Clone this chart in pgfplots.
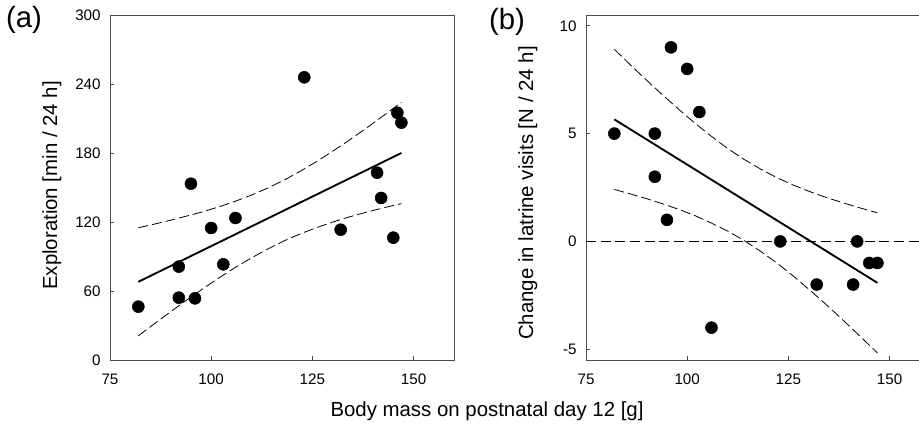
\documentclass[border=0pt]{standalone}
\usepackage{fontspec}
\setmainfont{Liberation Sans}
\usepackage{pgfplots}
\pgfplotsset{compat=1.18}
\begin{document}
\begin{tikzpicture}
\useasboundingbox (0,0) rectangle (689.25pt,322.5pt);
\clip (0,0) rectangle (689.25pt,322.5pt);
\pgfplotsset{
  panel/.style={
    width=258pt, height=258.75pt, scale only axis,
    anchor=south west,
    xmin=75, xmax=160, xtick={75,100,125,150},
    tick align=inside, tick pos=left, major tick length=3pt,
    axis line style={black!70, line width=0.75pt},
    tick style={black!70, line width=0.6pt},
    ticklabel style={font=\fontsize{11.4}{13}\selectfont},
    /pgf/number format/assume math mode=true,
    xticklabel style={yshift=-7pt},
    yticklabel style={xshift=-3.5pt},
    label style={font=\fontsize{15.3}{18}\selectfont},
  },
  pts/.style={only marks, mark=*, mark size=4.5pt, black},
  fit/.style={black, line width=1.4pt, no marks},
  ci/.style={black, line width=0.6pt, no marks, dash pattern=on 7.5pt off 3pt},
}
% (a)
\begin{axis}[panel, at={(82.5pt,52.5pt)},
  ymin=0, ymax=300, ytick={0,60,120,180,240,300},
  ylabel={Exploration [min / 24 h]},
  ylabel style={at={(axis description cs:-0.169,0.506)}, anchor=center}]
\addplot[ci] coordinates {(82,115.0) (86,118.2) (90,121.6) (94,125.2) (98,129.0) (102,133.3) (106,138.1) (110,143.5) (114,149.6) (118,156.4) (122,164.1) (126,172.5) (130,181.5) (134,190.9) (138,200.8) (142,211.0) (146,221.4) (147,224.0)};
\addplot[ci] coordinates {(82,21.0) (86,31.6) (90,42.0) (94,52.2) (98,62.1) (102,71.6) (106,80.6) (110,88.9) (114,96.6) (118,103.6) (122,109.7) (126,115.1) (130,119.9) (134,124.3) (138,128.2) (142,131.8) (146,135.2) (147,136.0)};
\addplot[fit] coordinates {(82,68.0) (147,180.0)};
\addplot[pts] coordinates {(82,46.4) (92,54.2) (96,53.6) (92,81.2) (103,83.2) (100,114.8) (106,123.5) (95,153.3) (123,245.8) (132,113.3) (141,162.9) (142,140.9) (145,106.4) (146,215) (147,206.4)};
\end{axis}
% (b)
\begin{axis}[panel, at={(439.5pt,52.5pt)},
  ymin=-5.5, ymax=10.5, ytick={-5,0,5,10}, yticklabels={-5,0,5,10},
  ylabel={Change in latrine visits [N / 24 h]},
  ylabel style={at={(axis description cs:-0.169,0.484)}, anchor=center}]
\addplot[black, line width=0.9pt, no marks, dash pattern=on 7.5pt off 3.5pt] coordinates {(75,0) (160,0)};
\addplot[ci] coordinates {(82,8.91) (86,8.18) (90,7.47) (94,6.78) (98,6.11) (102,5.47) (106,4.87) (110,4.31) (114,3.81) (118,3.37) (122,2.97) (126,2.63) (130,2.33) (134,2.06) (138,1.82) (142,1.59) (146,1.38) (147,1.33)};
\addplot[ci] coordinates {(82,2.41) (86,2.20) (90,1.98) (94,1.74) (98,1.48) (102,1.19) (106,0.85) (110,0.48) (114,0.05) (118,-0.44) (122,-0.98) (126,-1.57) (130,-2.21) (134,-2.87) (138,-3.56) (142,-4.27) (146,-4.99) (147,-5.17)};
\addplot[fit] coordinates {(82,5.66) (147,-1.92)};
\addplot[pts] coordinates {(82,5) (92,5) (92,3) (95,1) (96,9) (100,8) (103,6) (106,-4) (123,0) (132,-2) (141,-2) (142,0) (145,-1) (147,-1)};
\end{axis}
\node[font=\fontsize{15.3}{18}\selectfont] at (365.25pt,14.25pt) {Body mass on postnatal day 12 [g]};
\node[font=\fontsize{22}{26}\selectfont] at (18pt,307.5pt) {(a)};
\node[font=\fontsize{22}{26}\selectfont] at (380.25pt,306pt) {(b)};
\end{tikzpicture}
\end{document}
